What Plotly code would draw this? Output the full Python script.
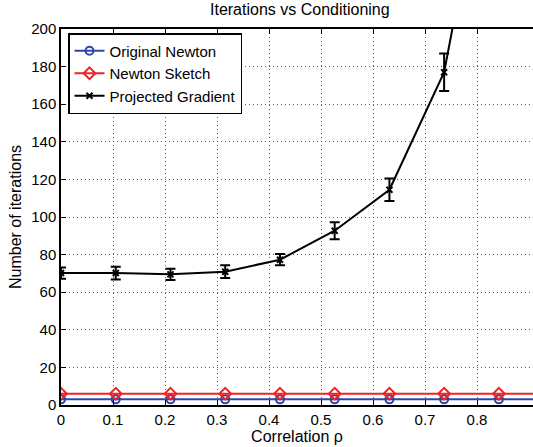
import plotly.graph_objects as go

# Data
rho = [0.0, 0.1053, 0.2105, 0.3158, 0.4211, 0.5263, 0.6316, 0.7368, 0.8421, 0.9474]
newton_orig = [3, 3, 3, 3, 3, 3, 3, 3, 3, 3]
newton_sketch = [6, 6, 6, 6, 6, 6, 6, 6, 6, 6]
proj_grad = [70.2, 70.2, 69.5, 70.9, 77.3, 92.7, 114.5, 177, 330, 600]
proj_grad_err = [3, 3.4, 3, 3.4, 3, 4.5, 6, 10, 15, 25]
x_ticks = [0, 0.1, 0.2, 0.3, 0.4, 0.5, 0.6, 0.7, 0.8]
x_ticklabels = ["0", "0.1", "0.2", "0.3", "0.4", "0.5", "0.6", "0.7", "0.8"]
y_ticks = [0, 20, 40, 60, 80, 100, 120, 140, 160, 180, 200]

FONT = "Liberation Sans, Arial, Helvetica, sans-serif"
BLUE = "rgb(45,70,170)"
RED = "rgb(240,35,35)"
GRID = "rgb(90,90,90)"

fig = go.Figure()
fig.add_trace(go.Scatter(
    x=rho, y=newton_orig, mode="lines+markers", name="Original Newton",
    line=dict(color=BLUE, width=2),
    marker=dict(symbol="circle-open", size=8, color=BLUE, line=dict(width=2)),
))
fig.add_trace(go.Scatter(
    x=rho, y=newton_sketch, mode="lines+markers", name="Newton Sketch",
    line=dict(color=RED, width=2),
    marker=dict(symbol="diamond-open", size=9, color=RED, line=dict(width=2)),
))
fig.add_trace(go.Scatter(
    x=rho, y=proj_grad, mode="lines+markers", name="Projected Gradient",
    line=dict(color="black", width=2),
    marker=dict(symbol="x-thin-open", size=6, color="black", line=dict(width=2, color="black")),
    error_y=dict(type="data", array=proj_grad_err, visible=True, color="black", thickness=2, width=5),
))

fig.update_layout(
    width=533, height=447,
    margin=dict(l=61, r=0, t=29, b=42),
    paper_bgcolor="white", plot_bgcolor="white",
    font=dict(family=FONT, size=15, color="black"),
    title=dict(text="Iterations vs Conditioning", x=0.5625, xanchor="center",
               yref="container", y=1 - 4 / 447, yanchor="top",
               font=dict(family=FONT, size=16, color="black")),
    showlegend=True,
    legend=dict(x=7 / 472, y=1 - 4 / 376, xanchor="left", yanchor="top",
                bgcolor="white", bordercolor="black", borderwidth=1.5,
                font=dict(family=FONT, size=15, color="black"),
                tracegroupgap=0, itemwidth=30),
    xaxis=dict(
        range=[0, 0.9077], tickvals=x_ticks, ticktext=x_ticklabels,
        showline=True, linecolor="black", linewidth=1.5, mirror="ticks",
        ticks="inside", ticklen=5, tickcolor="black",
        showgrid=True, gridcolor=GRID, griddash="1px,3px", gridwidth=1,
        zeroline=False, automargin=False,
        title=dict(text="Correlation ρ", standoff=0, font=dict(family=FONT, size=16)),
        tickfont=dict(family=FONT, size=15),
    ),
    yaxis=dict(
        range=[0, 200], tickvals=y_ticks,
        showline=True, linecolor="black", linewidth=1.5,
        ticks="inside", ticklen=5, tickcolor="black",
        showgrid=True, gridcolor=GRID, griddash="1px,3px", gridwidth=1,
        zeroline=False, automargin=False,
        title=dict(text="Number of iterations", standoff=6, font=dict(family=FONT, size=16)),
        tickfont=dict(family=FONT, size=15),
    ),
)

fig.write_html("out.html", config={"displayModeBar": False},
               post_script="document.body.style.margin='0';")
